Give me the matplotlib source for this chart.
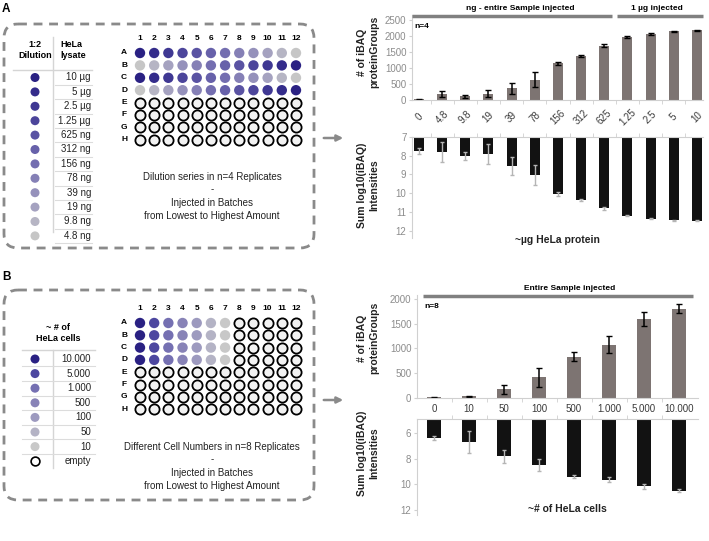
import numpy as np
import matplotlib
matplotlib.use("Agg")
import matplotlib.pyplot as plt
from matplotlib.patches import FancyBboxPatch

plt.rcParams['font.family'] = ['Liberation Sans', 'DejaVu Sans']

"""
data
"""

# panel A legend / plate
dilution_labels = ['10 µg', '5 µg', '2.5 µg', '1.25 µg', '625 ng', '312 ng', '156 ng',
                   '78 ng', '39 ng', '19 ng', '9.8 ng', '4.8 ng']
dilution_colors = ['#2a2183', '#342c8b', '#3f3893', '#4c459b', '#5a53a3', '#6761aa',
                   '#746eb0', '#8580b6', '#9591bb', '#a5a2c0', '#b6b5c4', '#c6c6c6']

# panel B legend / plate
cell_labels = ['10.000', '5.000', '1.000', '500', '100', '50', '10', 'empty']
cell_colors = ['#2a2183', '#4d47a0', '#7570b2', '#8883b7', '#9d9abf', '#b4b3c5', '#c8c8c8']

plate_rows = list('ABCDEFGH')
plate_cols = [str(i) for i in range(1, 13)]

# panel A charts
amount_cats = ['0', '4.8', '9.8', '19', '39', '78', '156', '312', '625', '1.25', '2.5', '5', '10']
pg_a = [20, 180, 120, 200, 370, 640, 1150, 1370, 1700, 1970, 2070, 2150, 2180]
pg_a_err = [8, 100, 45, 120, 170, 230, 50, 40, 45, 25, 25, 20, 20]
int_a = [7.75, 7.8, 8.02, 7.93, 8.55, 9.05, 10.03, 10.36, 10.8, 11.2, 11.37, 11.46, 11.48]
int_a_err = [0.15, 0.55, 0.2, 0.53, 0.5, 0.53, 0.1, 0.06, 0.08, 0.04, 0.04, 0.03, 0.03]

# panel B charts
cell_cats = ['0', '10', '50', '100', '500', '1.000', '5.000', '10.000']
pg_b = [14, 34, 176, 414, 834, 1078, 1593, 1803]
pg_b_err = [6, 15, 90, 200, 95, 170, 140, 90]
int_b = [6.39, 6.7, 7.82, 8.49, 9.4, 9.64, 10.16, 10.49]
int_b_err = [0.15, 0.87, 0.52, 0.5, 0.1, 0.2, 0.2, 0.1]

W, H = 709, 541
fig = plt.figure(figsize=(W / 100, H / 100), dpi=100)

GRID = '#d0d0d0'
TICK = '#8c8c8c'
BAR_GREY = '#7d7472'
BAR_BLACK = '#121212'


def px_axes(x0, y0, x1, y1):
    "axes from pixel box (top-left origin)"
    return fig.add_axes([x0 / W, 1 - y1 / H, (x1 - x0) / W, (y1 - y0) / H])


def style_top(ax, cats, rotated):
    n = len(cats)
    if rotated:
        # slanted category labels, centred a bit below the axis line
        ax.set_xticks([])
        for i, lab in enumerate(cats):
            ax.text(i, -0.2, lab, transform=ax.get_xaxis_transform(), rotation=45,
                    ha='center', va='center', fontsize=7, color='#3a3a3a')
    else:
        ax.set_xticks(np.arange(n), cats, fontsize=7, color='#3a3a3a')
        ax.tick_params(axis='x', which='major', length=0, pad=4)
    ax.set_xticks(np.arange(n - 1) + 0.5, minor=True)
    ax.tick_params(axis='x', which='minor', length=3, color=GRID)
    ax.tick_params(axis='y', labelsize=7, labelcolor=TICK, length=2, color=GRID, pad=2)
    for s in ['top', 'right']:
        ax.spines[s].set_visible(False)
    for s in ['left', 'bottom']:
        ax.spines[s].set_color(GRID)
    ax.set_facecolor('none')


def style_low(ax, n):
    ax.xaxis.tick_top()
    ax.set_xticks([])
    ax.set_xticks(np.arange(n - 1) + 0.5, minor=True)
    ax.tick_params(axis='x', which='minor', length=3, color=GRID, top=True, bottom=False)
    ax.tick_params(axis='y', labelsize=7, labelcolor=TICK, length=2, color=GRID, pad=2)
    for s in ['bottom', 'right']:
        ax.spines[s].set_visible(False)
    for s in ['left', 'top']:
        ax.spines[s].set_color(GRID)
    ax.set_facecolor('none')


"""
panel A charts
"""
xa = np.arange(len(amount_cats))
ax1 = px_axes(412, 15, 703, 100)
ax1.bar(xa, pg_a, width=0.43, color=BAR_GREY)
ax1.errorbar(xa, pg_a, yerr=pg_a_err, fmt='none', ecolor='k', elinewidth=1.1, capsize=2)
ax1.set_xlim(-0.3, 12.26)
ax1.set_ylim(0, 2656)
ax1.set_yticks([0, 500, 1000, 1500, 2000, 2500])
style_top(ax1, amount_cats, True)

ax2 = px_axes(412, 137, 703, 238)
ax2.bar(xa, np.array(int_a) - 7, bottom=7, width=0.43, color=BAR_BLACK)
ax2.errorbar(xa, int_a, yerr=int_a_err, fmt='none', ecolor='#b5b5b5', elinewidth=1.0, capsize=1.5)
ax2.set_xlim(-0.3, 12.26)
ax2.set_ylim(12.4, 7)
ax2.set_yticks([7, 8, 9, 10, 11, 12])
style_low(ax2, len(amount_cats))

"""
panel B charts
"""
xb = np.arange(len(cell_cats))
ax3 = px_axes(417, 295, 698, 398)
ax3.bar(xb, pg_b, width=0.4, color=BAR_GREY)
ax3.errorbar(xb, pg_b, yerr=pg_b_err, fmt='none', ecolor='k', elinewidth=1.1, capsize=2)
ax3.set_xlim(-0.486, 7.54)
ax3.set_ylim(0, 2080)
ax3.set_yticks([0, 500, 1000, 1500, 2000])
style_top(ax3, cell_cats, False)

ax4 = px_axes(417, 419, 698, 515)
base_b = 4.9
ax4.bar(xb, np.array(int_b) - base_b, bottom=base_b, width=0.4, color=BAR_BLACK)
ax4.errorbar(xb, int_b, yerr=int_b_err, fmt='none', ecolor='#b5b5b5', elinewidth=1.0, capsize=1.5)
ax4.set_xlim(-0.486, 7.54)
ax4.set_ylim(12.4, base_b)
ax4.set_yticks([6, 8, 10, 12])
style_low(ax4, len(cell_cats))

"""
overlay in pixel coordinates: schemes, labels, arrows
"""
ov = fig.add_axes([0, 0, 1, 1])
ov.set_xlim(0, W)
ov.set_ylim(H, 0)
ov.axis('off')

ov.text(2, 9, 'A', fontsize=8.5, fontweight='bold', va='center')
ov.text(2, 277, 'B', fontsize=8.5, fontweight='bold', va='center')

for (y0, y1) in [(24, 248), (290, 500)]:
    box = FancyBboxPatch((4, y0), 310, y1 - y0, boxstyle='round,pad=0,rounding_size=14',
                         fill=False, ec='#8a8a8a', lw=2.0, ls=(0, (3.2, 2.4)))
    ov.add_patch(box)

for y in [138, 400]:
    ov.annotate('', xy=(346, y), xytext=(321, y),
                arrowprops=dict(arrowstyle='-|>', color='#8a8a8a', lw=1.8, mutation_scale=9))

# table A
ov.text(35, 50, '1:2\nDilution', fontsize=6.5, fontweight='bold', ha='center', va='center',
        multialignment='center')
ov.text(60, 50, 'HeLa\nlysate', fontsize=6.5, fontweight='bold', ha='left', va='center')
ov.plot([53, 53], [37, 232], color='#d5d5d5', lw=1)
ov.plot([13, 92], [70, 70], color='#d5d5d5', lw=1)
ya = 77.5 + 14.4 * np.arange(len(dilution_labels))
ov.scatter(np.full(len(ya), 35), ya, s=42, c=dilution_colors, lw=0)
for y, lab in zip(ya, dilution_labels):
    ov.text(91, y, lab, fontsize=7, ha='right', va='center', color='#222222')
    ov.plot([55, 92], [y + 7.2, y + 7.2], color='#dcdcdc', lw=0.8)

# plate A
pcx = 140 + 14.18 * np.arange(12)
pry_a = 53 + 12.4 * np.arange(8)
for cx, lab in zip(pcx, plate_cols):
    ov.text(cx, 39, lab, fontsize=6, fontweight='bold', ha='center', va='center')
for ry, lab in zip(pry_a, plate_rows):
    ov.text(124, ry, lab, fontsize=6, fontweight='bold', ha='center', va='center')
for r in range(8):
    if r < 4:
        cols = dilution_colors if r % 2 == 0 else dilution_colors[::-1]
        ov.scatter(pcx, np.full(12, pry_a[r]), s=56, c=cols, lw=0)
    else:
        ov.scatter(pcx, np.full(12, pry_a[r]), s=54, facecolor='#f2f2f2', edgecolor='k', lw=1.3)
for y, t in zip([177, 189, 203, 216], ['Dilution series in n=4 Replicates', '-',
                                        'Injected in Batches', 'from Lowest to Highest Amount']):
    ov.text(212, y, t, fontsize=7, ha='center', va='center', color='#222222')

# table B
ov.text(58, 333, '~ # of\nHeLa cells', fontsize=6.5, fontweight='bold', ha='center', va='center',
        multialignment='center')
ov.plot([53, 53], [350, 468], color='#d5d5d5', lw=1)
ov.plot([22, 95], [350, 350], color='#d5d5d5', lw=1)
yb = 359 + 14.6 * np.arange(len(cell_labels))
ov.scatter(np.full(len(cell_colors), 35), yb[:len(cell_colors)], s=42, c=cell_colors, lw=0)
ov.scatter([35], [yb[-1]], s=40, facecolor='white', edgecolor='k', lw=1.2)
for i, (y, lab) in enumerate(zip(yb, cell_labels)):
    ov.text(91, y, lab, fontsize=7, ha='right', va='center', color='#222222')
    if i < len(cell_labels) - 1:
        ov.plot([22, 95], [y + 7.3, y + 7.3], color='#dcdcdc', lw=0.8)

# plate B
pry_b = 323 + 12.3 * np.arange(8)
for cx, lab in zip(pcx, plate_cols):
    ov.text(cx, 309, lab, fontsize=6, fontweight='bold', ha='center', va='center')
for ry, lab in zip(pry_b, plate_rows):
    ov.text(124, ry, lab, fontsize=6, fontweight='bold', ha='center', va='center')
nfill = len(cell_colors)
for r in range(8):
    if r < 4:
        ov.scatter(pcx[:nfill], np.full(nfill, pry_b[r]), s=56, c=cell_colors, lw=0)
        ov.scatter(pcx[nfill:], np.full(12 - nfill, pry_b[r]), s=54, facecolor='#f2f2f2',
                   edgecolor='k', lw=1.3)
    else:
        ov.scatter(pcx, np.full(12, pry_b[r]), s=54, facecolor='#f2f2f2', edgecolor='k', lw=1.3)
for y, t in zip([447, 459, 473, 486], ['Different Cell Numbers in n=8 Replicates', '-',
                                        'Injected in Batches', 'from Lowest to Highest Amount']):
    ov.text(212, y, t, fontsize=7, ha='center', va='center', color='#222222')

# chart annotations
ov.plot([412, 612], [16, 16], color='#808080', lw=2.5, solid_capstyle='butt')
ov.plot([617, 703], [16, 16], color='#808080', lw=2.5, solid_capstyle='butt')
ov.text(520, 8, 'ng - entire Sample injected', fontsize=6, fontweight='bold', ha='center', va='center')
ov.text(657, 8, '1 µg injected', fontsize=6, fontweight='bold', ha='center', va='center')
ov.text(414, 27, 'n=4', fontsize=6, fontweight='bold', ha='left', va='center')

ov.plot([423, 693], [296, 296], color='#808080', lw=2.5, solid_capstyle='butt')
ov.text(570, 289, 'Entire Sample injected', fontsize=6, fontweight='bold', ha='center', va='center')
ov.text(424, 307, 'n=8', fontsize=6, fontweight='bold', ha='left', va='center')

ylab_kw = dict(fontsize=7.5, fontweight='bold', rotation=90, ha='center', va='center',
               multialignment='center', color='#222222')
ov.text(368, 52, '# of iBAQ\nproteinGroups', **ylab_kw)
ov.text(368, 185, 'Sum log10(iBAQ)\nIntensities', **ylab_kw)
ov.text(368, 338, '# of iBAQ\nproteinGroups', **ylab_kw)
ov.text(368, 453, 'Sum log10(iBAQ)\nIntensities', **ylab_kw)

ov.text(557, 240, '~µg HeLa protein', fontsize=7.5, fontweight='bold', ha='center', va='center',
        color='#222222')
ov.text(567, 509, '~# of HeLa cells', fontsize=7.5, fontweight='bold', ha='center', va='center',
        color='#222222')

fig.savefig('out.png', dpi=100, facecolor='white')
